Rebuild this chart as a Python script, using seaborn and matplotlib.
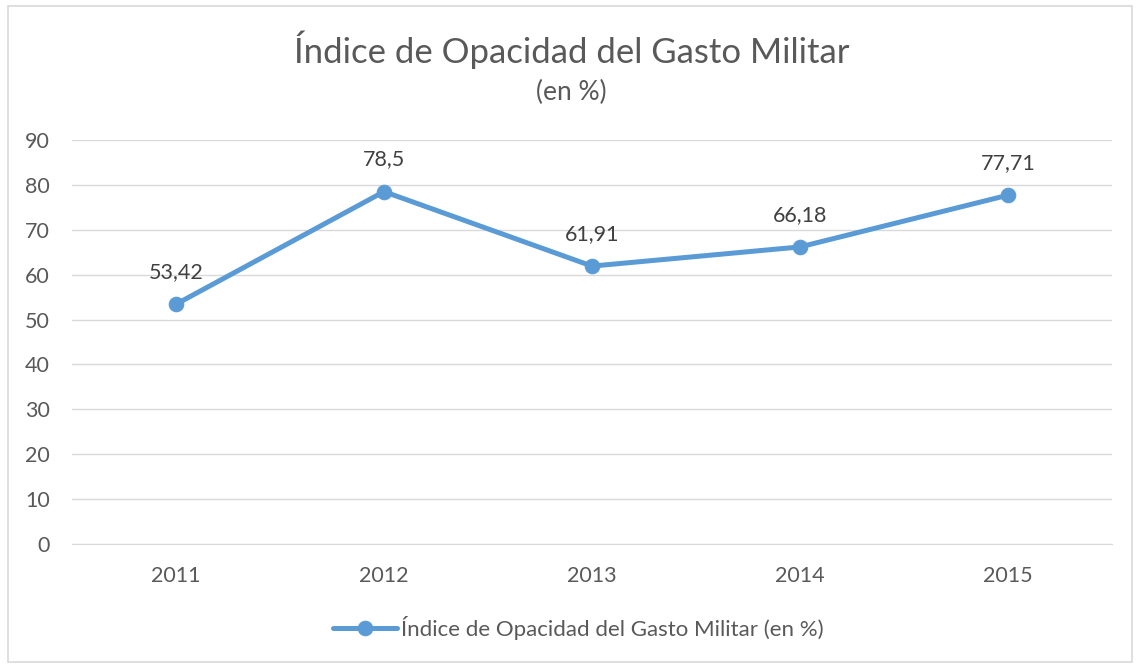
import seaborn as sns
import matplotlib.pyplot as plt
from matplotlib.patches import Rectangle
from pandas import DataFrame

# chart data
years = ['2011', '2012', '2013', '2014', '2015']
values = [53.42, 78.5, 61.91, 66.18, 77.71]
value_labels = ['53,42', '78,5', '61,91', '66,18', '77,71']
series_name = 'Índice de Opacidad del Gasto Militar (en %)'

if __name__ == '__main__':
    data = DataFrame({'year': years, 'value': values})

    sns.set_style("white")
    plt.rcParams['font.family'] = ['Lato', 'DejaVu Sans']

    fig = plt.figure(figsize=(11.36, 6.64), dpi=100)
    ax = fig.add_axes([72 / 1136, 120 / 664, 1040 / 1136, 404 / 664])

    blue = '#5B9BD5'
    sns.lineplot(x='year', y='value', data=data, ax=ax, color=blue,
                 linewidth=3.6, marker='o', markersize=10.5, markeredgecolor=blue,
                 label=series_name, sort=False)

    for i, (v, lab) in enumerate(zip(values, value_labels)):
        ax.annotate(lab, (i, v), xytext=(0, 16), textcoords='offset points',
                    ha='center', va='bottom', fontsize=15.5, color='#404040')

    ax.set_xlim(-0.5, 4.5)
    ax.set_ylim(0, 90)
    ax.set_yticks(range(0, 91, 10))
    ax.grid(axis='y', color='#D9D9D9', linewidth=1)
    ax.set_axisbelow(True)
    for side in ['left', 'right', 'top']:
        ax.spines[side].set_visible(False)
    ax.spines['bottom'].set_color('#D9D9D9')
    ax.tick_params(axis='both', length=0, labelsize=15.5, labelcolor='#595959')
    ax.tick_params(axis='x', pad=16)
    ax.tick_params(axis='y', pad=16)
    ax.set_xlabel('')
    ax.set_ylabel('')

    fig.text(0.503, 0.925, 'Índice de Opacidad del Gasto Militar', ha='center',
             va='center', fontsize=25, color='#595959')
    fig.text(0.503, 0.861, '(en %)', ha='center', va='center', fontsize=19,
             color='#595959')

    ax.legend(loc='center', bbox_to_anchor=(578 / 1136, 1 - 628 / 664),
              bbox_transform=fig.transFigure, frameon=False, fontsize=16,
              labelcolor='#595959', handlelength=2.9, handletextpad=0.15)

    fig.patches.append(Rectangle((8 / 1136, 2 / 664), 1124 / 1136, 656 / 664,
                                 transform=fig.transFigure, fill=False,
                                 edgecolor='#D9D9D9', linewidth=1.2))

    plt.savefig('out.png', dpi=100)
